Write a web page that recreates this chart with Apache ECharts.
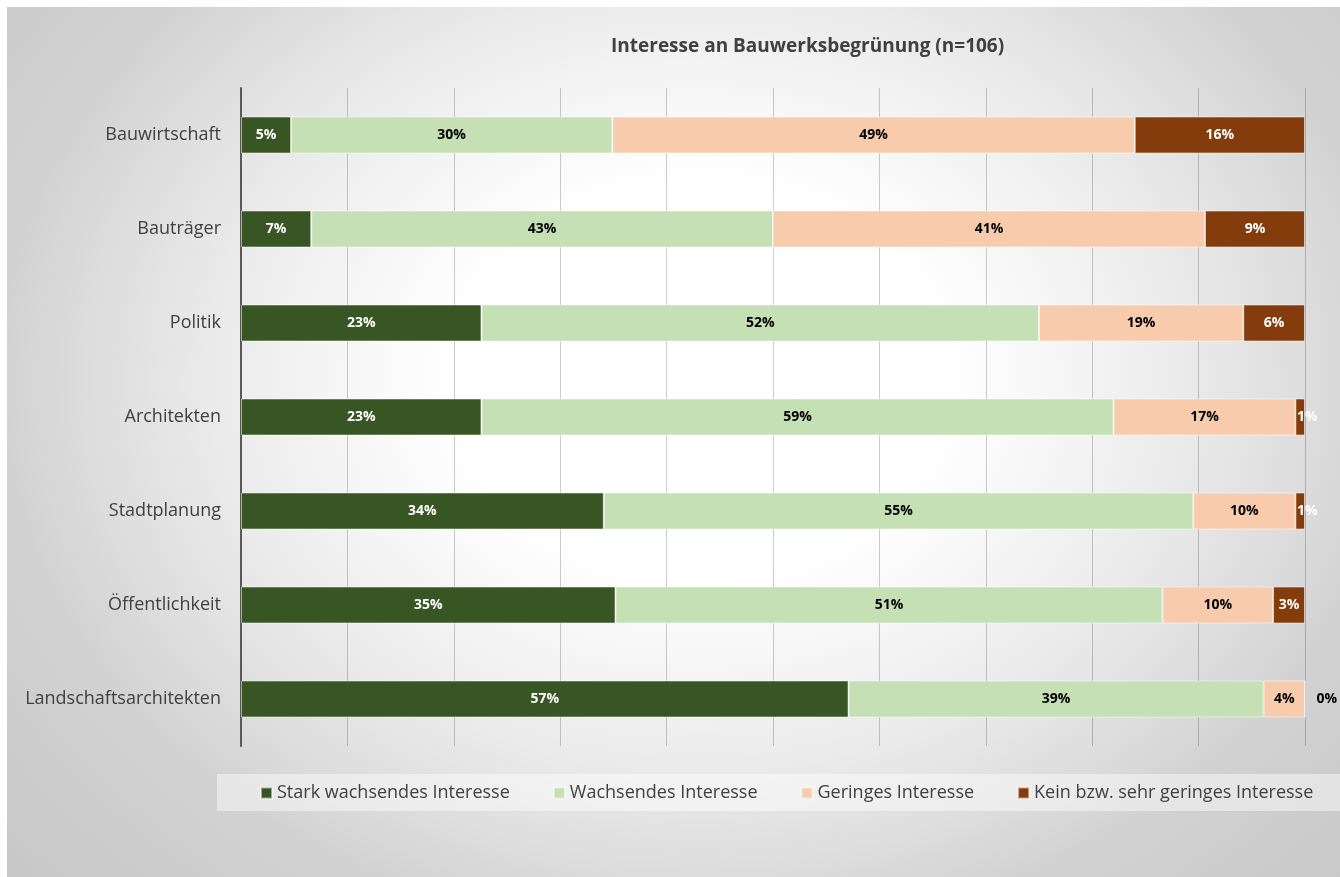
<!DOCTYPE html>
<html>
<head>
<meta charset="utf-8">
<script src="https://cdn.jsdelivr.net/npm/echarts@6.0.0/dist/echarts.min.js"></script>
<style>
html, body { margin: 0; padding: 0; background: #fff; }
#bg {
    position: absolute; left: 7px; top: 7px; width: 1333px; height: 870px;
    background: radial-gradient(ellipse 910px 728px at 693px 373px,
        #ffffff 0%, #ffffff 27%, #f4f4f4 42%, #eaeaea 54%, #dcdcdc 68%, #d2d2d2 77%, #c8c8c8 100%);
}
#main { position: absolute; left: 0; top: 0; width: 1340px; height: 877px; }
</style>
</head>
<body>
<div id="bg"></div>
<div id="main"></div>
<script>
// Kategorien (von oben nach unten)
var categories = ['Bauwirtschaft', 'Bauträger', 'Politik', 'Architekten', 'Stadtplanung', 'Öffentlichkeit', 'Landschaftsarchitekten'];
var seriesNames = ['Stark wachsendes Interesse', 'Wachsendes Interesse', 'Geringes Interesse', 'Kein bzw. sehr geringes Interesse'];
// Anteile in %
var starkWachsend = [4.7, 6.6, 22.6, 22.6, 34.1, 35.2, 57.1];
var wachsend      = [30.2, 43.4, 52.4, 59.4, 55.4, 51.4, 39.0];
var gering        = [49.1, 40.6, 19.2, 17.1, 9.6, 10.4, 3.9];
var kein          = [16.0, 9.4, 5.8, 0.9, 0.9, 3.0, 0];

var colors = ['#375623', '#C5E0B4', '#F8CBAD', '#843C0C'];
var labelColors = ['#ffffff', '#000000', '#000000', '#ffffff'];
var values = [starkWachsend, wachsend, gering, kein];

function makeSeries(i) {
    return {
        name: seriesNames[i],
        type: 'bar',
        stack: 'total',
        barWidth: 37,
        data: values[i].map(function (v) {
            if (v === 0) {
                // 0% steht rechts neben dem Balken
                return { value: v, label: { position: 'right', distance: 11, color: '#000000' } };
            }
            if (v < 2) {
                return { value: v, label: { offset: [7, 0] } };
            }
            return v;
        }),
        itemStyle: {
            color: colors[i],
            borderColor: 'rgba(255,255,255,0.5)',
            borderWidth: 1
        },
        label: {
            show: true,
            position: 'inside',
            formatter: function (p) { return Math.round(p.value) + '%'; },
            color: labelColors[i],
            fontWeight: 'bold',
            fontSize: 14,
            fontFamily: 'Open Sans'
        }
    };
}

var chart = echarts.init(document.getElementById('main'));
var option = {
    backgroundColor: 'transparent',
    animation: false,
    textStyle: { fontFamily: 'Open Sans' },
    title: {
        text: 'Interesse an Bauwerksbegrünung (n=106)',
        left: 606,
        top: 32,
        textStyle: {
            fontFamily: 'Open Sans',
            fontSize: 19,
            fontWeight: 'bold',
            color: '#404040'
        }
    },
    legend: {
        data: seriesNames,
        left: 217,
        top: 774,
        width: 1200,
        padding: [9, 43, 8, 43],
        itemGap: 43,
        itemWidth: 11,
        itemHeight: 11,
        icon: 'rect',
        backgroundColor: 'rgba(255,255,255,0.45)',
        textStyle: {
            fontFamily: 'Open Sans',
            fontSize: 18,
            lineHeight: 20,
            color: '#404040'
        }
    },
    grid: {
        left: 241,
        right: 35,
        top: 88,
        height: 658
    },
    xAxis: {
        type: 'value',
        min: 0,
        max: 100,
        interval: 10,
        axisLabel: { show: false },
        axisLine: { show: false },
        axisTick: { show: false },
        splitLine: {
            show: true,
            lineStyle: { color: 'rgba(0,0,0,0.2)', width: 1 }
        }
    },
    yAxis: {
        type: 'category',
        inverse: true,
        data: categories,
        axisLine: {
            show: true,
            lineStyle: { color: '#595959', width: 2 }
        },
        axisTick: { show: false },
        axisLabel: {
            margin: 20,
            fontSize: 18,
            color: '#404040',
            fontFamily: 'Open Sans'
        }
    },
    series: [makeSeries(0), makeSeries(1), makeSeries(2), makeSeries(3)]
};
chart.setOption(option);
</script>
</body>
</html>
